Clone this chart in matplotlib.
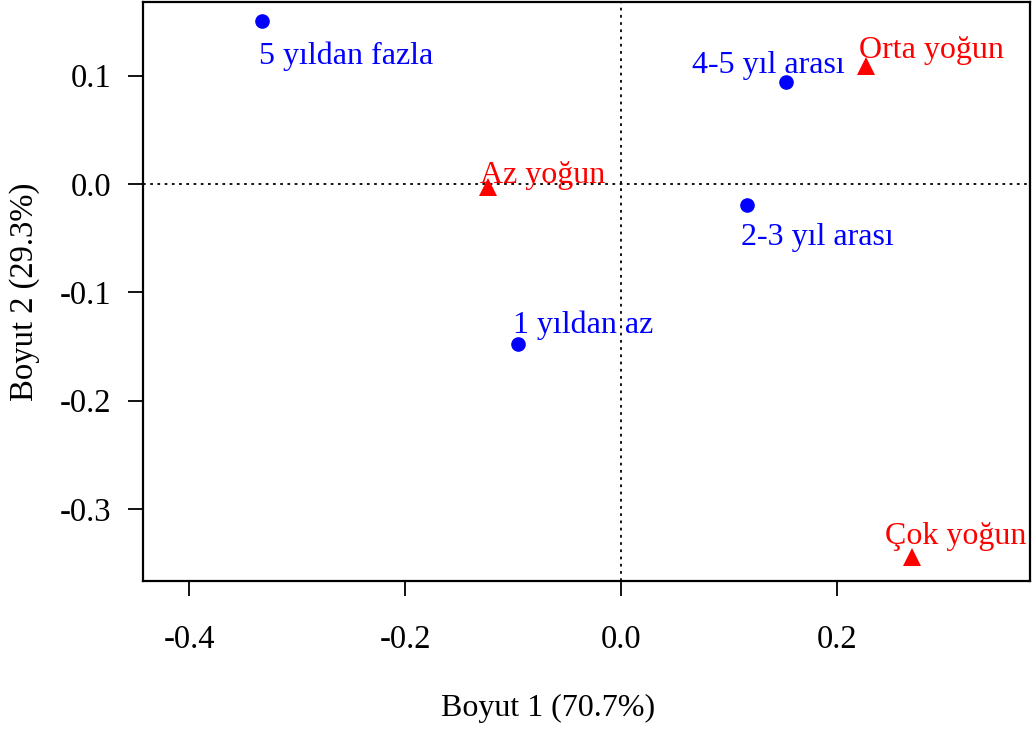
import matplotlib
matplotlib.use("Agg")
import matplotlib.pyplot as plt

plt.rcParams['font.family'] = ['Liberation Serif', 'DejaVu Serif']

# Row categories (years) and column categories (intensity)
row_labels = ["5 yıldan fazla", "4-5 yıl arası", "2-3 yıl arası", "1 yıldan az"]
row_dim1 = [-0.332, 0.153, 0.117, -0.095]
row_dim2 = [0.150, 0.094, -0.019, -0.148]

col_labels = ["Orta yoğun", "Az yoğun", "Çok yoğun"]
col_dim1 = [0.227, -0.123, 0.269]
col_dim2 = [0.109, -0.003, -0.344]

x_ticks = [-0.4, -0.2, 0.0, 0.2]
y_ticks = [0.1, 0.0, -0.1, -0.2, -0.3]
x_title = "Boyut 1 (70.7%)"
y_title = "Boyut 2 (29.3%)"

# label placement offsets (pixels) relative to each point
row_offsets = [(-3, -35, 'left'), (-18, 17, 'center'), (70, -33, 'center'), (65, 19, 'center')]
col_offsets = [(65, 15, 'center'), (54, 12, 'center'), (44, 20, 'center')]

fig = plt.figure(figsize=(10.35, 7.31), dpi=100)
ax = fig.add_axes([0.1382, 0.2052, 0.857, 0.7921])

ax.axhline(0, color='black', linestyle=(0, (1.5, 2.5)), linewidth=1.3, zorder=1)
ax.axvline(0, color='black', linestyle=(0, (1.5, 2.5)), linewidth=1.3, zorder=1)

ax.plot(row_dim1, row_dim2, 'o', color='blue', markersize=9.5, zorder=3)
ax.plot(col_dim1, col_dim2, '^', color='red', markersize=12.5, markeredgewidth=0, zorder=3)

for lab, x, y, (dx, dy, ha) in zip(row_labels, row_dim1, row_dim2, row_offsets):
    ax.annotate(lab, (x, y), xytext=(dx, dy), textcoords='offset pixels',
                ha=ha, va='center', color='blue', fontsize=23)
for lab, x, y, (dx, dy, ha) in zip(col_labels, col_dim1, col_dim2, col_offsets):
    ax.annotate(lab, (x, y), xytext=(dx, dy), textcoords='offset pixels',
                ha=ha, va='center', color='red', fontsize=23)

ax.set_xlim(-0.4426, 0.3787)
ax.set_ylim(-0.3666, 0.168)
ax.set_xticks(x_ticks)
ax.set_xticklabels([f"{v:.1f}" for v in x_ticks])
ax.set_yticks(y_ticks)
ax.set_yticklabels([f"{v:.1f}" for v in y_ticks])
ax.tick_params(axis='x', length=11, width=1.3, pad=20, labelsize=23.5)
ax.tick_params(axis='y', length=11, width=1.3, pad=12, labelsize=23.5)
for s in ax.spines.values():
    s.set_linewidth(1.6)

fig.text(0.53, 1 - 708 / 731, x_title, ha='center', va='center', fontsize=23)
fig.text(25 / 1035, 1 - 292 / 731, y_title, ha='center', va='center', rotation=90, fontsize=23.5)

fig.savefig("out.png", dpi=100)
